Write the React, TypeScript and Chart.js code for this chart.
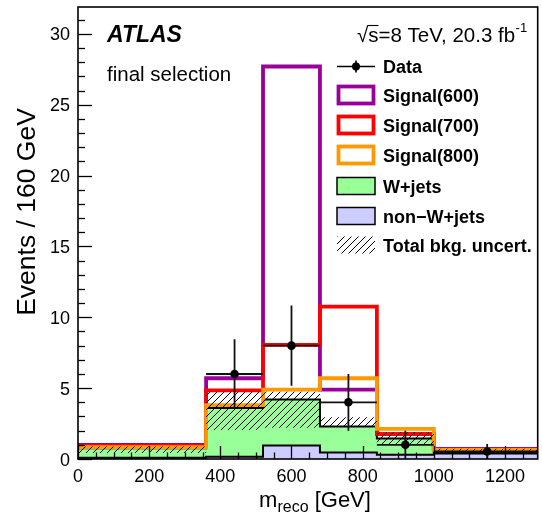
import { useEffect, useRef } from "react";
import { Chart, registerables } from "chart.js";

Chart.register(...registerables);

// Bin edges (GeV)
const binEdges = [0, 360, 520, 680, 840, 1000, 1300];
// Background stack (events / 160 GeV)
const nonWJets = [0.08, 0.15, 0.95, 0.45, 0.3, 0.38];
const wJets = [0.67, 3.45, 3.25, 1.85, 1.15, 0.12];
// Total background uncertainty band
const bkgUncUp = [0.88, 4.75, 4.75, 2.95, 1.9, 0.72];
const bkgUncDown = [0.42, 2.05, 2.2, 2.25, 1.0, 0.38];
// Signals
const signal600 = [1.0, 5.7, 27.7, 4.9, 1.75, 0.72];
const signal700 = [0.92, 4.85, 8.05, 10.75, 1.75, 0.68];
const signal800 = [0.84, 3.8, 4.9, 5.7, 2.12, 0.64];
// Data
const dataLo = [360, 520, 680, 840, 1000];
const dataHi = [520, 680, 840, 1000, 1300];
const dataY = [6, 8, 4, 1, 0.53];
const dataErr = [2.45, 2.83, 2.0, 1.0, 0.53];
// Axis ticks
const xTicks = [0, 200, 400, 600, 800, 1000, 1200];
const yTicks = [0, 5, 10, 15, 20, 25, 30];

const FONT = "'Liberation Sans', Arial, Helvetica, sans-serif";
const PURPLE = "#990099";
const RED = "#ff0000";
const ORANGE = "#ff9900";
const GREEN = "#99ff99";
const LAVENDER = "#ccccff";

function steps(vals: number[]) {
  const pts = vals.map((v, i) => ({ x: binEdges[i], y: v }));
  pts.push({ x: binEdges[binEdges.length - 1], y: vals[vals.length - 1] });
  return pts;
}

function makeHatch(ctx: CanvasRenderingContext2D) {
  const s = 7;
  const c = document.createElement("canvas");
  c.width = s;
  c.height = s;
  const g = c.getContext("2d")!;
  g.strokeStyle = "#000";
  g.lineWidth = 1;
  g.beginPath();
  g.moveTo(0, s);
  g.lineTo(s, 0);
  g.moveTo(-1, 1);
  g.lineTo(1, -1);
  g.moveTo(s - 1, s + 1);
  g.lineTo(s + 1, s - 1);
  g.stroke();
  return ctx.createPattern(c, "repeat")!;
}

export default function App() {
  const ref = useRef<HTMLCanvasElement>(null);

  useEffect(() => {
    document.body.style.margin = "0";
    const canvas = ref.current!;
    const ctx = canvas.getContext("2d")!;
    const hatch = makeHatch(ctx);

    const total = nonWJets.map((v, i) => v + wJets[i]);

    const errPts: { x: number; y: number | null }[] = [];
    dataY.forEach((y, i) => {
      const c = (dataLo[i] + dataHi[i]) / 2;
      errPts.push({ x: dataLo[i], y });
      errPts.push({ x: dataHi[i], y });
      errPts.push({ x: dataHi[i], y: null });
      errPts.push({ x: c, y: Math.max(0, y - dataErr[i]) });
      errPts.push({ x: c, y: y + dataErr[i] });
      errPts.push({ x: c, y: null });
    });
    const dataPts = dataY.map((y, i) => ({ x: (dataLo[i] + dataHi[i]) / 2, y }));

    const stepBase = {
      stepped: "before" as const,
      pointRadius: 0,
      pointHoverRadius: 0,
    };

    const decor = {
      id: "decor",
      afterDatasetsDraw(chart: any) {
        const c = chart.ctx as CanvasRenderingContext2D;
        const { left, right, top, bottom } = chart.chartArea;
        const xs = chart.scales.x;
        const ys = chart.scales.y;
        c.save();
        c.strokeStyle = "#000";
        c.lineWidth = 1.3;
        for (let v = 0; v <= ys.max; v += 1) {
          const py = Math.round(ys.getPixelForValue(v)) + 0.5;
          const len = v % 5 === 0 ? 14 : 7;
          c.beginPath();
          c.moveTo(left, py);
          c.lineTo(left + len, py);
          c.stroke();
        }
        for (let v = 0; v <= xs.max; v += 50) {
          const px = Math.round(xs.getPixelForValue(v)) + 0.5;
          const len = v % 200 === 0 ? 13 : 6.5;
          c.beginPath();
          c.moveTo(px, bottom);
          c.lineTo(px, bottom - len);
          c.stroke();
        }
        c.lineWidth = 1.6;
        c.strokeRect(left, top, right - left, bottom - top);
        c.restore();
      },
      afterDraw(chart: any) {
        const c = chart.ctx as CanvasRenderingContext2D;
        const xs = chart.scales.x;
        const ys = chart.scales.y;
        const { bottom } = chart.chartArea;
        c.save();
        c.fillStyle = "#000";
        // tick labels
        c.font = `18px ${FONT}`;
        c.textAlign = "right";
        c.textBaseline = "alphabetic";
        yTicks.forEach((v) => {
          c.fillText(String(v), 70, ys.getPixelForValue(v) + 6.5);
        });
        c.textAlign = "center";
        xTicks.forEach((v) => {
          c.fillText(String(v), xs.getPixelForValue(v), bottom + 23);
        });
        // x title m_reco [GeV]
        c.textAlign = "left";
        const mainF = `22px ${FONT}`;
        const subF = `16px ${FONT}`;
        c.font = mainF;
        const wm = c.measureText("m").width;
        const wg = c.measureText(" [GeV]").width;
        c.font = subF;
        const wr = c.measureText("reco").width;
        const x0 = 315 - (wm + wr + wg) / 2;
        const by = 507;
        c.font = mainF;
        c.fillText("m", x0, by);
        c.font = subF;
        c.fillText("reco", x0 + wm, by + 5);
        c.font = mainF;
        c.fillText(" [GeV]", x0 + wm + wr, by);
        // y title
        c.save();
        c.translate(35, 212);
        c.rotate(-Math.PI / 2);
        c.textAlign = "center";
        c.font = `26.5px ${FONT}`;
        c.fillText("Events / 160 GeV", 0, 0);
        c.restore();
        // ATLAS label
        c.textAlign = "left";
        c.font = `italic bold 23px ${FONT}`;
        c.fillText("ATLAS", 107, 41.5);
        c.font = `20.5px ${FONT}`;
        c.fillText("final selection", 107, 81);
        // sqrt(s) label
        c.font = `20.5px ${FONT}`;
        let sx = 357;
        c.fillText("\u221A", sx, 41.5);
        sx += c.measureText("\u221A").width;
        const ws = c.measureText("s").width;
        c.fillText("s", sx, 41.5);
        c.lineWidth = 1.1;
        c.beginPath();
        c.moveTo(sx - 1, 25.5);
        c.lineTo(sx + ws, 25.5);
        c.stroke();
        sx += ws;
        const rest = "=8 TeV, 20.3 fb";
        c.fillText(rest, sx, 41.5);
        sx += c.measureText(rest).width;
        c.font = `13px ${FONT}`;
        c.fillText("-1", sx + 0.5, 32);

        // legend
        const lx0 = 337;
        const lx1 = 375;
        const bh = 17;
        const rows = [66.5, 95, 125, 155, 186, 216, 245];
        c.strokeStyle = "#000";
        c.lineWidth = 1.6;
        c.beginPath();
        c.moveTo(lx0, rows[0]);
        c.lineTo(lx1, rows[0]);
        c.moveTo((lx0 + lx1) / 2, rows[0] - 6);
        c.lineTo((lx0 + lx1) / 2, rows[0] + 6);
        c.stroke();
        c.beginPath();
        c.arc((lx0 + lx1) / 2, rows[0], 4, 0, Math.PI * 2);
        c.fill();
        const sigCols = [PURPLE, RED, ORANGE];
        sigCols.forEach((col, i) => {
          const y = rows[i + 1];
          c.strokeStyle = col;
          c.lineWidth = 3.8;
          c.strokeRect(lx0 + 1.5, y - bh / 2, lx1 - lx0 - 3, bh);
        });
        [GREEN, LAVENDER].forEach((col, i) => {
          const y = rows[i + 4];
          c.fillStyle = col;
          c.fillRect(lx0, y - bh / 2, lx1 - lx0, bh);
          c.strokeStyle = "#000";
          c.lineWidth = 1.5;
          c.strokeRect(lx0, y - bh / 2, lx1 - lx0, bh);
        });
        c.fillStyle = hatch;
        c.fillRect(lx0, rows[6] - bh / 2, lx1 - lx0, bh);
        c.fillStyle = "#000";
        c.font = `bold 18px ${FONT}`;
        const labels = [
          "Data",
          "Signal(600)",
          "Signal(700)",
          "Signal(800)",
          "W+jets",
          "non\u2212W+jets",
          "Total bkg. uncert.",
        ];
        labels.forEach((t, i) => c.fillText(t, 383, rows[i] + 6.5));
        c.restore();
      },
    };

    const chart = new Chart(canvas, {
      type: "line",
      data: {
        datasets: [
          {
            label: "Data",
            data: dataPts,
            showLine: false,
            pointRadius: 4.3,
            pointBackgroundColor: "#000",
            pointBorderWidth: 0,
            borderColor: "#000",
          },
          {
            label: "errors",
            data: errPts as any,
            borderColor: "#111",
            borderWidth: 1.8,
            pointRadius: 0,
            spanGaps: false,
          },
          {
            ...stepBase,
            label: "Total bkg. uncert.",
            data: steps(bkgUncUp),
            borderColor: "rgba(0,0,0,0)",
            borderWidth: 0,
            backgroundColor: hatch,
            fill: "+1",
          },
          {
            ...stepBase,
            label: "unc low",
            data: steps(bkgUncDown),
            borderColor: "rgba(0,0,0,0)",
            borderWidth: 0,
            fill: false,
          },
          {
            ...stepBase,
            label: "Signal(800)",
            data: steps(signal800),
            borderColor: ORANGE,
            borderWidth: 3.8,
            fill: false,
          },
          {
            ...stepBase,
            label: "Signal(700)",
            data: steps(signal700),
            borderColor: RED,
            borderWidth: 3.8,
            fill: false,
          },
          {
            ...stepBase,
            label: "Signal(600)",
            data: steps(signal600),
            borderColor: PURPLE,
            borderWidth: 3.8,
            fill: false,
          },
          {
            ...stepBase,
            label: "non-W+jets",
            data: steps(nonWJets),
            borderColor: "#000",
            borderWidth: 2,
            backgroundColor: LAVENDER,
            fill: "origin",
          },
          {
            ...stepBase,
            label: "W+jets",
            data: steps(total),
            borderColor: "#000",
            borderWidth: 2,
            backgroundColor: GREEN,
            fill: "origin",
          },
        ],
      },
      options: {
        animation: false,
        responsive: false,
        devicePixelRatio: 1,
        layout: { padding: { left: 78, top: 7, right: 0, bottom: 58 } },
        scales: {
          x: { type: "linear", min: 0, max: 1292, display: false },
          y: { type: "linear", min: 0, max: 31.9, display: false },
        },
        plugins: {
          legend: { display: false },
          tooltip: { enabled: false },
        },
        events: [],
      },
      plugins: [decor],
    });

    return () => chart.destroy();
  }, []);

  return (
    <div style={{ position: "absolute", left: 0, top: 0, width: 542, height: 517, background: "#fff" }}>
      <canvas ref={ref} width={542} height={517} style={{ display: "block" }} />
    </div>
  );
}
